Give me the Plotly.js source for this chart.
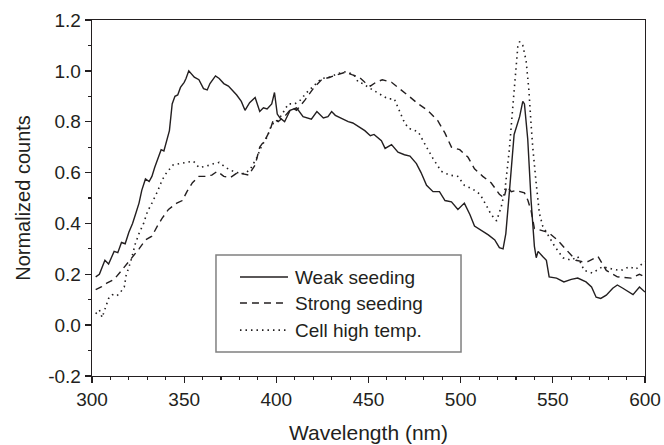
<!DOCTYPE html>
<html>
<head>
<meta charset="utf-8">
<script src="https://cdn.plot.ly/plotly-3.0.1.min.js"></script>
<style>html,body{margin:0;padding:0;background:#fff;}#chart{width:664px;height:445px;}</style>
</head>
<body>
<div id="chart"></div>
<script>
const seriesNames = ["Weak seeding", "Strong seeding", "Cell high temp."];

const weakX = [302,304,307,309,312,314,316,318,320,322,324,325.5,327,329,331,332.5,334,336,337.5,339,341,342,343.5,345,346.5,348,350,351,352.5,354,355.5,358,360.5,362.5,364,367,369,371.5,374,376,378.5,381,383,385.5,388.5,391,393,395,397.5,399,400.5,402,404.5,407.5,411,414.5,417,419,422,425.5,428,430,432,434.5,437,439,441.5,443.5,446,448,451,453,457,459,462.5,466,469.5,472.5,476,478.5,481.5,485,488.5,491.5,495,498.5,502,505,507.5,511,515,518.5,521,523,524.5,526.5,529,532,533.7,534.6,536.4,538.2,540,541,542,544.5,546.5,548,552,556,560,563.5,568,571,573.5,576,579,582.5,585,588,590.5,593.5,597,600];
const weakY = [0.19,0.20,0.255,0.24,0.29,0.285,0.325,0.32,0.365,0.40,0.445,0.48,0.53,0.575,0.565,0.585,0.62,0.665,0.69,0.685,0.74,0.765,0.87,0.90,0.905,0.935,0.955,0.97,1.0,0.985,0.975,0.965,0.93,0.925,0.95,0.98,0.97,0.95,0.94,0.925,0.905,0.88,0.845,0.875,0.895,0.84,0.855,0.85,0.87,0.915,0.83,0.815,0.80,0.845,0.855,0.82,0.815,0.81,0.84,0.815,0.82,0.84,0.825,0.815,0.805,0.80,0.795,0.785,0.775,0.765,0.745,0.75,0.725,0.695,0.71,0.68,0.67,0.665,0.635,0.60,0.55,0.525,0.525,0.49,0.485,0.455,0.48,0.435,0.39,0.375,0.355,0.335,0.305,0.30,0.36,0.53,0.75,0.82,0.88,0.87,0.73,0.49,0.31,0.265,0.29,0.27,0.255,0.19,0.185,0.17,0.18,0.185,0.17,0.15,0.11,0.105,0.118,0.145,0.158,0.145,0.135,0.12,0.15,0.13];

const strongX = [302,305,308,312,315.5,319,322.5,325.5,329,332.5,335.5,338,341.5,346,349,351.5,354.5,358,361.5,365,368,371.5,375,379,382,385,388.5,391,394,396.5,398.5,401,405,408.5,411,415.5,420,424.5,429,433,437.5,441,445,448,451,454,457.5,462.5,468,472,477,482,487.5,491.5,495,499.5,504,507.5,512,516.5,521,523.5,525,527.5,530,532.5,534.6,536.5,538.2,540,543,547.5,552.5,557,562.5,566,569,574.5,579,585,592.5,597,600];
const strongY = [0.14,0.15,0.165,0.18,0.21,0.24,0.27,0.30,0.335,0.35,0.39,0.42,0.455,0.48,0.49,0.525,0.56,0.585,0.585,0.59,0.605,0.585,0.58,0.60,0.595,0.59,0.63,0.70,0.73,0.765,0.81,0.80,0.825,0.855,0.845,0.885,0.93,0.965,0.975,0.985,0.995,0.985,0.975,0.955,0.94,0.955,0.965,0.955,0.925,0.90,0.87,0.845,0.805,0.755,0.70,0.69,0.66,0.615,0.585,0.56,0.515,0.50,0.545,0.525,0.53,0.525,0.52,0.49,0.45,0.38,0.375,0.365,0.335,0.30,0.255,0.25,0.25,0.27,0.215,0.19,0.185,0.20,0.19];

const cellX = [302,304,305.5,307,309,311,313.5,315.5,317.5,318.5,321,323.5,325.5,328,330,332.5,335.5,338,340.5,344,348,352.5,355,358,362,366,369,372.5,375,378.5,383,386,389.5,392,395,397.5,400.5,404,406.5,410,413,416.5,421,424.5,429,433.5,438,442,444.5,447,450,455,460.5,464,467,469,471.5,477,481.5,485,489.5,494,498.5,502,506.5,510.5,514,516.5,519.5,522,524,526.4,528.3,529.7,531,532,533.7,535.5,537,538.2,539.1,541,542.7,544.5,547.3,551,555.5,560,563.5,567,571.5,577,582.5,587,591.5,595,600];
const cellY = [0.045,0.06,0.03,0.06,0.105,0.12,0.115,0.13,0.15,0.195,0.25,0.32,0.36,0.40,0.445,0.48,0.525,0.57,0.60,0.63,0.635,0.64,0.645,0.62,0.625,0.635,0.64,0.62,0.61,0.60,0.595,0.615,0.66,0.705,0.74,0.79,0.80,0.84,0.87,0.87,0.885,0.915,0.945,0.97,0.975,0.99,0.997,0.985,0.955,0.95,0.935,0.915,0.89,0.89,0.84,0.805,0.775,0.76,0.70,0.655,0.605,0.59,0.585,0.55,0.535,0.515,0.47,0.435,0.41,0.465,0.53,0.69,0.86,0.99,1.095,1.115,1.10,1.04,0.925,0.79,0.70,0.555,0.44,0.39,0.355,0.31,0.265,0.255,0.27,0.215,0.205,0.23,0.22,0.215,0.23,0.22,0.25];

const xTickVals = [300,350,400,450,500,550,600];
const yTickVals = [-0.2,0.0,0.2,0.4,0.6,0.8,1.0,1.2];
const yTickText = ["-0.2","0.0","0.2","0.4","0.6","0.8","1.0","1.2"];

const ink = "#231f20";
const fontFam = "Liberation Sans, Arial, sans-serif";
const dashes = ["solid", "7px,5px", "1.5px,4px"];
const widths = [1.4, 1.4, 1.6];

const seriesX = [weakX, strongX, cellX];
const seriesY = [weakY, strongY, cellY];

const traces = seriesNames.map((n, i) => ({
  x: seriesX[i], y: seriesY[i], name: n, mode: "lines",
  line: {color: ink, width: widths[i], dash: dashes[i]}
}));

// Legend drawn as a framed box (paper coordinates) to match the reference geometry
const legBox = {x0: 0.2242, x1: 0.6673, y0: 0.0674, y1: 0.3399};
const legRowsY = [0.278, 0.205, 0.129];
const legLineX = [0.2676, 0.3544];
const legTextX = 0.363;

const shapes = [{
  type: "rect", xref: "paper", yref: "paper",
  x0: legBox.x0, x1: legBox.x1, y0: legBox.y0, y1: legBox.y1,
  line: {color: "#808080", width: 1.5}, fillcolor: "#fff", layer: "above"
}];
const annotations = [];
seriesNames.forEach((n, i) => {
  shapes.push({
    type: "line", xref: "paper", yref: "paper",
    x0: legLineX[0], x1: legLineX[1], y0: legRowsY[i], y1: legRowsY[i],
    line: {color: ink, width: widths[i], dash: i === 1 ? "7px,5px" : (i === 2 ? "1.5px,4px" : "solid")},
    layer: "above"
  });
  annotations.push({
    xref: "paper", yref: "paper", x: legTextX, y: legRowsY[i],
    xanchor: "left", yanchor: "middle", showarrow: false,
    text: n, font: {family: fontFam, size: 19, color: ink}
  });
});

const axisCommon = {
  showgrid: false, zeroline: false, showline: true, mirror: true,
  linecolor: ink, linewidth: 1.3,
  ticks: "outside", ticklen: 6, tickwidth: 1.3, tickcolor: ink,
  tickfont: {family: fontFam, size: 19, color: ink}
};

const layout = {
  width: 664, height: 445,
  margin: {l: 92, r: 19, t: 20, b: 69},
  paper_bgcolor: "#fff", plot_bgcolor: "#fff",
  font: {family: fontFam, color: ink},
  showlegend: false,
  xaxis: Object.assign({}, axisCommon, {
    range: [300, 600], tickvals: xTickVals,
    minor: {dtick: 10, tick0: 300, ticks: "outside", ticklen: 3, tickwidth: 1.1, tickcolor: ink},
    title: {text: "Wavelength (nm)", font: {family: fontFam, size: 21, color: ink}, standoff: 16}
  }),
  yaxis: Object.assign({}, axisCommon, {
    range: [-0.2, 1.2], tickvals: yTickVals, ticktext: yTickText,
    minor: {dtick: 0.1, tick0: -0.2, ticks: "outside", ticklen: 3, tickwidth: 1.1, tickcolor: ink},
    title: {text: "Normalized counts", font: {family: fontFam, size: 20, color: ink}, standoff: 12}
  }),
  shapes: shapes,
  annotations: annotations
};

Plotly.newPlot("chart", traces, layout, {staticPlot: true, displayModeBar: false});
</script>
</body>
</html>
